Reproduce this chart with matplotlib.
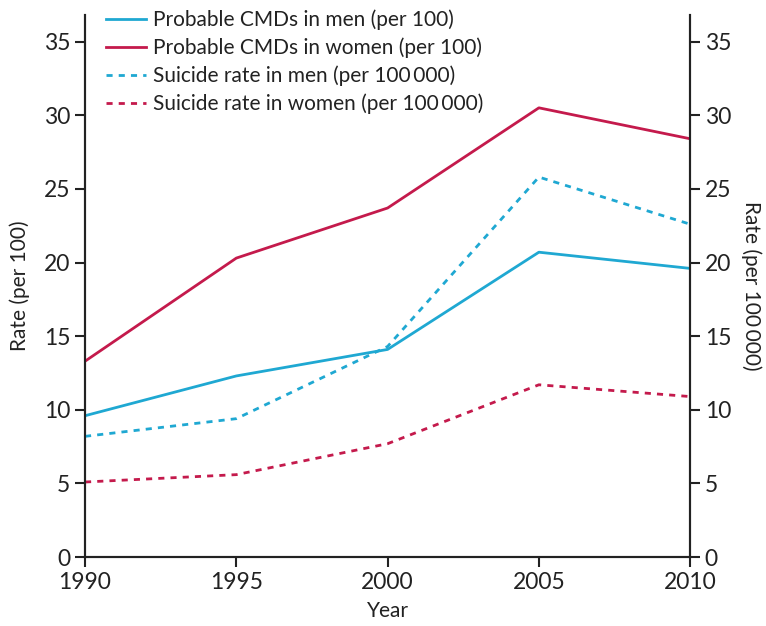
import matplotlib.pyplot as plt

years = [1990, 1995, 2000, 2005, 2010]
cmd_men = [9.6, 12.3, 14.1, 20.7, 19.6]
cmd_women = [13.3, 20.3, 23.7, 30.5, 28.4]
suicide_men = [8.2, 9.4, 14.3, 25.8, 22.6]
suicide_women = [5.1, 5.6, 7.7, 11.7, 10.9]
yticks = [0, 5, 10, 15, 20, 25, 30, 35]

blue = '#1fa8d2'
red = '#c41a4c'

plt.rcParams['font.family'] = ['Lato', 'DejaVu Sans']

fig = plt.figure(figsize=(7.66, 6.26), dpi=100)
ax = fig.add_axes([0.111, 0.110, 0.790, 0.866])
ax2 = ax.twinx()

l1, = ax.plot(years, cmd_men, color=blue, lw=2, label='Probable CMDs in men (per 100)')
l2, = ax.plot(years, cmd_women, color=red, lw=2, label='Probable CMDs in women (per 100)')
l3, = ax2.plot(years, suicide_men, color=blue, lw=2, ls=(0, (2.2, 2.2)),
               label='Suicide rate in men (per 100\u2009000)')
l4, = ax2.plot(years, suicide_women, color=red, lw=2, ls=(0, (2.2, 2.2)),
               label='Suicide rate in women (per 100\u2009000)')

for a in (ax, ax2):
    a.set_xlim(1990, 2010)
    a.set_ylim(0, 36.8)
    a.set_yticks(yticks)
    a.spines['top'].set_visible(False)
    a.tick_params(labelsize=16.5, length=7, width=1.5, color='#222222', labelcolor='#222222')
    for s in a.spines.values():
        s.set_linewidth(1.5)
        s.set_color('#222222')

ax.set_xticks(years)
ax.set_xlabel('Year', fontsize=15, color='#222222', labelpad=6)
ax.set_ylabel('Rate (per 100)', fontsize=15, color='#222222', labelpad=10)
ax2.set_ylabel('Rate (per 100\u2009000)', fontsize=15, color='#222222', rotation=270, labelpad=22)

ax.legend(handles=[l1, l2, l3, l4], loc='upper left', bbox_to_anchor=(0.004, 1.045),
          frameon=False, fontsize=15, handlelength=1.9, handletextpad=0.35,
          labelspacing=0.36, labelcolor='#222222')

fig.savefig('out.png', dpi=100)
